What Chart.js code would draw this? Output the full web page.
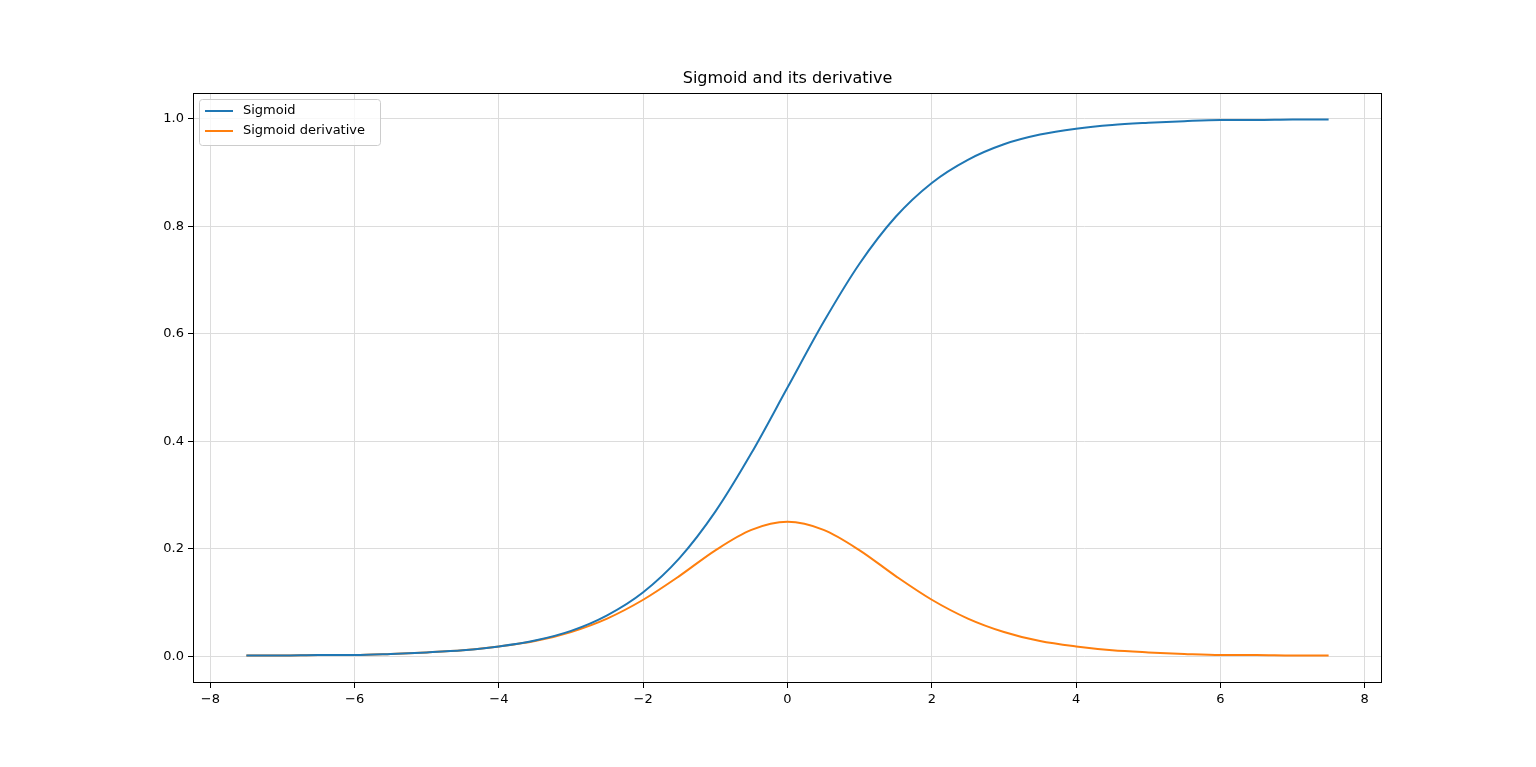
<!DOCTYPE html>
<html><head><meta charset="utf-8">
<script src="https://cdn.jsdelivr.net/npm/chart.js@4"></script>
<style>html,body{margin:0;padding:0;background:#fff}#w{width:1536px;height:767px}</style>
</head><body><div id="w"><canvas id="c"></canvas></div>
<script>
const xValues = [-7.5,-7,-6.5,-6,-5.5,-5,-4.5,-4,-3.5,-3,-2.5,-2,-1.5,-1,-0.5,0,0.5,1,1.5,2,2.5,3,3.5,4,4.5,5,5.5,6,6.5,7,7.5];
const sigmoidValues = [0.001,0.001,0.002,0.002,0.004,0.007,0.011,0.018,0.029,0.047,0.076,0.119,0.182,0.269,0.378,0.5,0.622,0.731,0.818,0.881,0.924,0.953,0.971,0.982,0.989,0.993,0.996,0.998,0.998,0.999,0.999];
const derivValues = [0.001,0.001,0.002,0.002,0.004,0.007,0.011,0.018,0.028,0.045,0.070,0.105,0.149,0.197,0.235,0.25,0.235,0.197,0.149,0.105,0.070,0.045,0.028,0.018,0.011,0.007,0.004,0.002,0.002,0.001,0.001];
const xTicks = [-8,-6,-4,-2,0,2,4,6,8];
const yTicks = [0,0.2,0.4,0.6,0.8,1.0];
const seriesNames = ['Sigmoid','Sigmoid derivative'];
const titleText = 'Sigmoid and its derivative';
const colors = ['#1f77b4','#ff7f0e'];
const FONT = 'DejaVu Sans';

const frame = {id:'frame', afterDatasetsDraw(ch){
  const a=ch.chartArea, g=ch.ctx; g.save();
  g.strokeStyle='#000'; g.lineWidth=1; g.strokeRect(a.left+0.5,a.top+0.5,a.right-a.left-1,a.bottom-a.top-1);
  g.fillStyle='#000'; g.font='16px '+FONT; g.textAlign='center'; g.textBaseline='middle';
  g.fillText(titleText,(a.left+a.right)/2,79);
  g.textAlign='left';
  const x=a.left+6,y=a.top+6,w=181,h=46;
  g.fillStyle='rgba(255,255,255,0.8)'; g.strokeStyle='#ccc';
  g.beginPath(); g.roundRect(x+0.5,y+0.5,w,h,3); g.fill(); g.stroke();
  g.font='13px '+FONT;
  seriesNames.forEach((n,i)=>{const yy=y+12+i*20;
    g.strokeStyle=colors[i]; g.lineWidth=2; g.beginPath(); g.moveTo(x+6,yy); g.lineTo(x+34,yy); g.stroke();
    g.fillStyle='#000'; g.fillText(n,x+44,yy);});
  g.restore();
}};

new Chart(document.getElementById('c'),{
  type:'line',
  data:{datasets:[
    {label:seriesNames[0],data:xValues.map((x,i)=>({x,y:sigmoidValues[i]})),borderColor:colors[0],borderWidth:2,pointRadius:0,cubicInterpolationMode:'monotone'},
    {label:seriesNames[1],data:xValues.map((x,i)=>({x,y:derivValues[i]})),borderColor:colors[1],borderWidth:2,pointRadius:0,cubicInterpolationMode:'monotone'}
  ]},
  options:{responsive:true,maintainAspectRatio:false,animation:false,
    layout:{padding:{left:0,right:154,top:93,bottom:0}},
    plugins:{legend:{display:false},tooltip:{enabled:false},title:{display:false}},
    scales:{
      x:{type:'linear',min:-8.24,max:8.24,
        afterBuildTicks(s){s.ticks=xTicks.map(v=>({value:v}));},
        afterFit(s){s.height=84;},
        ticks:{color:'#000',font:{family:FONT,size:13},maxRotation:0,padding:4,callback:v=>String(v).replace('-','−')},
        grid:{color:'#dcdcdc',tickColor:'#000',tickLength:5},border:{display:false}},
      y:{min:-0.05,max:1.0484,
        afterBuildTicks(s){s.ticks=yTicks.map(v=>({value:v}));},
        afterFit(s){s.width=193;},
        ticks:{color:'#000',font:{family:FONT,size:13},padding:4,callback:v=>v.toFixed(1)},
        grid:{color:'#dcdcdc',tickColor:'#000',tickLength:5},border:{display:false}}
    }},
  plugins:[frame]
});
</script></body></html>
